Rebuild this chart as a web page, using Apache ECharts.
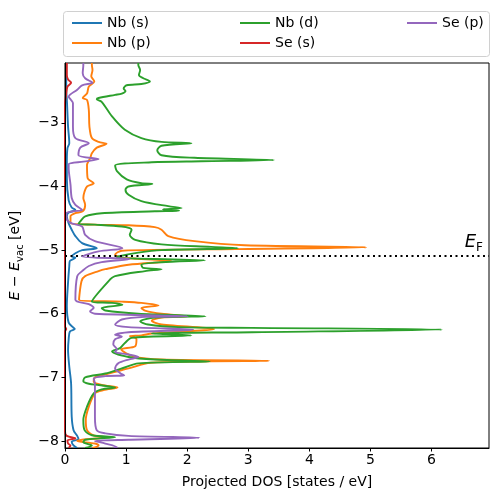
<!DOCTYPE html>
<html>
<head>
<meta charset="utf-8">
<script src="https://cdn.jsdelivr.net/npm/echarts@6/dist/echarts.min.js"></script>
<style>html,body{margin:0;padding:0;background:#fff;}#c{width:498px;height:502px;}</style>
</head>
<body>
<div id="c"></div>
<script>
// ---- data: [DOS (states/eV), E - E_vac (eV)] ----
const nbS = [[0.02,-2.06],[0.02,-2.30],[0.02,-2.50],[0.03,-2.63],[0.05,-3.06],[0.07,-3.32],[0.04,-3.40],[0.03,-3.60],[0.03,-3.87],[0.06,-4.22],[0.11,-4.33],[0.17,-4.37],[0.06,-4.41],[0.03,-4.47],[0.06,-4.58],[0.11,-4.68],[0.17,-4.78],[0.28,-4.89],[0.52,-4.97],[0.28,-5.00],[0.17,-5.05],[0.11,-5.10],[0.17,-5.12],[0.08,-5.17],[0.07,-5.25],[0.05,-5.51],[0.03,-5.88],[0.06,-6.14],[0.14,-6.22],[0.16,-6.24],[0.08,-6.28],[0.06,-6.40],[0.05,-6.57],[0.07,-6.83],[0.10,-7.10],[0.11,-7.62],[0.14,-7.83],[0.20,-7.92],[0.22,-7.97],[0.11,-8.01],[0.14,-8.07],[0.20,-8.11]];
const nbP = [[0.44,-2.06],[0.44,-2.09],[0.45,-2.17],[0.43,-2.27],[0.48,-2.35],[0.39,-2.43],[0.36,-2.54],[0.29,-2.61],[0.36,-2.64],[0.39,-2.80],[0.40,-3.06],[0.44,-3.24],[0.55,-3.30],[0.68,-3.33],[0.52,-3.39],[0.44,-3.48],[0.41,-3.56],[0.36,-3.66],[0.37,-3.87],[0.47,-3.95],[0.36,-4.00],[0.32,-4.08],[0.30,-4.18],[0.33,-4.29],[0.29,-4.39],[0.17,-4.42],[0.09,-4.47],[0.09,-4.58],[0.49,-4.60],[1.04,-4.61],[1.47,-4.64],[1.58,-4.68],[1.69,-4.78],[2.12,-4.86],[2.94,-4.925],[4.93,-4.956],[2.80,-4.985],[0.93,-5.01],[0.82,-5.07],[0.93,-5.12],[1.74,-5.17],[1.04,-5.23],[0.66,-5.30],[0.55,-5.33],[0.33,-5.41],[0.27,-5.49],[0.23,-5.78],[0.93,-5.81],[1.25,-5.83],[1.53,-5.87],[1.25,-5.91],[1.31,-5.95],[1.58,-6.00],[2.01,-6.04],[1.58,-6.06],[1.42,-6.11],[1.58,-6.17],[2.44,-6.24],[1.42,-6.31],[1.25,-6.34],[1.06,-6.35],[1.17,-6.40],[1.15,-6.51],[0.92,-6.56],[1.12,-6.67],[1.58,-6.72],[3.34,-6.74],[1.40,-6.77],[1.04,-6.86],[0.71,-6.94],[0.49,-7.00],[0.47,-7.07],[0.60,-7.12],[0.86,-7.16],[0.63,-7.20],[0.49,-7.25],[0.39,-7.46],[0.34,-7.67],[0.36,-7.83],[0.47,-7.91],[0.66,-7.94],[0.28,-7.98],[0.20,-8.00],[0.49,-8.04],[0.55,-8.07],[0.45,-8.11]];
const nbD = [[1.20,-2.06],[1.20,-2.09],[1.23,-2.17],[1.21,-2.25],[1.28,-2.30],[1.39,-2.35],[1.25,-2.39],[1.01,-2.41],[0.96,-2.46],[0.99,-2.50],[0.93,-2.54],[0.82,-2.56],[0.55,-2.61],[0.52,-2.63],[0.60,-2.67],[0.77,-2.90],[0.98,-3.11],[1.25,-3.24],[1.58,-3.30],[2.07,-3.32],[1.58,-3.36],[1.51,-3.43],[1.58,-3.51],[2.12,-3.55],[3.42,-3.585],[2.23,-3.605],[1.42,-3.62],[0.82,-3.67],[0.85,-3.76],[1.01,-3.89],[1.25,-3.95],[1.43,-3.96],[1.04,-4.00],[0.99,-4.05],[1.04,-4.13],[1.25,-4.23],[1.69,-4.31],[1.91,-4.34],[1.60,-4.36],[1.87,-4.38],[1.47,-4.39],[0.60,-4.42],[0.33,-4.47],[0.25,-4.55],[0.22,-4.59],[0.49,-4.60],[0.93,-4.63],[1.09,-4.68],[1.06,-4.76],[1.15,-4.84],[1.58,-4.91],[2.39,-4.95],[2.83,-4.97],[1.58,-5.00],[1.20,-5.04],[0.87,-5.10],[0.85,-5.12],[2.29,-5.16],[1.58,-5.19],[1.25,-5.23],[1.28,-5.28],[1.58,-5.30],[1.31,-5.33],[0.82,-5.41],[0.71,-5.49],[0.44,-5.81],[0.77,-5.83],[0.94,-5.86],[0.60,-5.91],[0.66,-5.95],[1.20,-6.00],[2.30,-6.04],[1.47,-6.06],[1.23,-6.12],[1.36,-6.17],[1.85,-6.21],[3.06,-6.222],[6.17,-6.248],[3.06,-6.29],[1.42,-6.31],[2.07,-6.34],[1.09,-6.38],[0.98,-6.46],[0.90,-6.54],[0.77,-6.59],[1.04,-6.68],[1.47,-6.72],[2.37,-6.75],[1.20,-6.78],[0.93,-6.86],[0.66,-6.94],[0.33,-7.00],[0.30,-7.06],[0.39,-7.10],[0.55,-7.12],[0.82,-7.16],[0.60,-7.19],[0.47,-7.25],[0.36,-7.46],[0.30,-7.67],[0.32,-7.83],[0.44,-7.91],[0.82,-7.94],[0.33,-7.98],[0.30,-8.02],[0.44,-8.07],[0.33,-8.11]];
const seS = [[0.03,-2.06],[0.03,-2.25],[0.05,-2.32],[0.10,-2.37],[0.04,-2.43],[0.02,-2.55],[0.0,-2.70],[0.0,-6.20],[0.02,-6.24],[0.0,-6.28],[0.0,-7.85],[0.03,-7.92],[0.17,-7.96],[0.04,-7.99],[0.05,-8.04],[0.09,-8.07],[0.06,-8.11]];
const seP = [[0.30,-2.06],[0.30,-2.09],[0.29,-2.22],[0.33,-2.30],[0.45,-2.37],[0.28,-2.41],[0.20,-2.48],[0.06,-2.59],[0.09,-2.63],[0.13,-2.69],[0.13,-3.06],[0.17,-3.24],[0.39,-3.32],[0.25,-3.39],[0.22,-3.51],[0.55,-3.57],[0.30,-3.61],[0.06,-3.65],[0.06,-3.71],[0.09,-3.97],[0.11,-4.18],[0.17,-4.29],[0.28,-4.37],[0.14,-4.39],[0.02,-4.42],[0.03,-4.52],[0.11,-4.58],[0.28,-4.63],[0.33,-4.76],[0.49,-4.86],[0.94,-4.97],[0.55,-5.02],[0.28,-5.10],[1.06,-5.14],[0.60,-5.19],[0.39,-5.25],[0.28,-5.33],[0.20,-5.41],[0.17,-5.78],[0.39,-5.85],[0.47,-5.91],[0.41,-5.96],[0.49,-6.00],[2.01,-6.04],[1.31,-6.05],[0.93,-6.09],[0.82,-6.17],[1.04,-6.21],[2.10,-6.25],[1.04,-6.29],[0.82,-6.33],[0.93,-6.36],[0.82,-6.40],[0.79,-6.48],[0.85,-6.56],[0.82,-6.60],[1.04,-6.64],[1.20,-6.68],[1.04,-6.72],[0.87,-6.78],[0.82,-6.86],[0.90,-6.93],[0.97,-6.97],[0.66,-6.98],[0.47,-7.02],[0.49,-7.10],[0.49,-7.62],[0.52,-7.83],[0.66,-7.88],[1.04,-7.92],[2.20,-7.95],[1.04,-7.98],[0.49,-8.00],[0.66,-8.04],[0.85,-8.10],[0.80,-8.11]];
const seriesNames = ['Nb (s)','Nb (p)','Nb (d)','Se (s)','Se (p)'];
const seriesColors = ['#1f77b4','#ff7f0e','#2ca02c','#d62728','#9467bd'];
const fermiLevel = -5.09;
const xTicks = [0,1,2,3,4,5,6];
const yTicks = [-8,-7,-6,-5,-4,-3];
const xRange = [0, 6.94];
const yRange = [-8.11, -2.06];

const FONT = 'DejaVu Sans';
const allData = [nbS, nbP, nbD, seS, seP];
const fmt = v => String(v).replace('-', '\u2212');

const series = allData.map((d, i) => ({
  name: seriesNames[i], type: 'line', data: d, showSymbol: false, symbol: 'none',
  smooth: 0.3,
  lineStyle: {width: 1.9, color: seriesColors[i]}, itemStyle: {color: seriesColors[i]},
  clip: true, z: 2 + i
}));
series.push({
  type: 'line', data: [], silent: true, z: 10,
  markLine: {
    silent: true, symbol: ['none','none'], animation: false,
    lineStyle: {color: '#000', type: [2, 3.5], width: 2},
    label: {
      show: true, position: 'insideEndTop', distance: [6, 2],
      formatter: '{e|E}{f|F}',
      rich: {
        e: {fontFamily: FONT, fontStyle: 'italic', fontSize: 18, color: '#000', lineHeight: 22, verticalAlign: 'middle'},
        f: {fontFamily: FONT, fontSize: 12, color: '#000', verticalAlign: 'bottom', lineHeight: 22}
      }
    },
    data: [{yAxis: fermiLevel}]
  }
});

function legendFor(names, left) {
  return {
    data: names, orient: 'vertical', left: left, top: 10, itemWidth: 30, itemHeight: 2,
    icon: 'rect', itemGap: 4, selectedMode: false,
    textStyle: {fontFamily: FONT, fontSize: 14, color: '#000', lineHeight: 16}
  };
}

const chart = echarts.init(document.getElementById('c'), null, {renderer: 'canvas'});
chart.setOption({
  animation: false,
  color: seriesColors,
  grid: {left: 63, right: 9, top: 63, bottom: 54, show: true, borderColor: '#000', borderWidth: 1, backgroundColor: 'transparent'},
  legend: [legendFor(['Nb (s)','Nb (p)'], 67), legendFor(['Nb (d)','Se (s)'], 235), legendFor(['Se (p)'], 402)],
  graphic: [{
    type: 'rect', left: 63, top: 11, z: -1,
    shape: {width: 426, height: 45, r: 3},
    style: {fill: '#fff', stroke: '#d0d0d0', lineWidth: 1}
  }],
  xAxis: {
    type: 'value', min: xRange[0], max: xRange[1], z: 20,
    name: 'Projected DOS [states / eV]', nameLocation: 'middle', nameGap: 27,
    nameTextStyle: {fontFamily: FONT, fontSize: 14, color: '#000'},
    axisLine: {show: true, lineStyle: {color: '#000', width: 1}},
    axisTick: {show: true, length: 3.5, lineStyle: {color: '#000'}, customValues: xTicks},
    axisLabel: {fontFamily: FONT, fontSize: 14, color: '#000', margin: 5, customValues: xTicks, formatter: fmt},
    splitLine: {show: false}
  },
  yAxis: {
    type: 'value', min: yRange[0], max: yRange[1], z: 20,
    name: '{i|E} \u2212 {i|E}{s|vac} [eV]', nameLocation: 'middle', nameGap: 40, nameRotate: 90,
    nameTextStyle: {
      fontFamily: FONT, fontSize: 14, color: '#000',
      rich: {
        i: {fontFamily: FONT, fontStyle: 'italic', fontSize: 14, color: '#000', lineHeight: 20, verticalAlign: 'middle'},
        s: {fontFamily: FONT, fontSize: 10, color: '#000', lineHeight: 20, verticalAlign: 'bottom'}
      }
    },
    axisLine: {show: true, lineStyle: {color: '#000', width: 1}},
    axisTick: {show: true, length: 3.5, lineStyle: {color: '#000'}, customValues: yTicks},
    axisLabel: {fontFamily: FONT, fontSize: 14, color: '#000', margin: 6, customValues: yTicks, formatter: fmt},
    splitLine: {show: false}
  },
  series: series
});
</script>
</body>
</html>
